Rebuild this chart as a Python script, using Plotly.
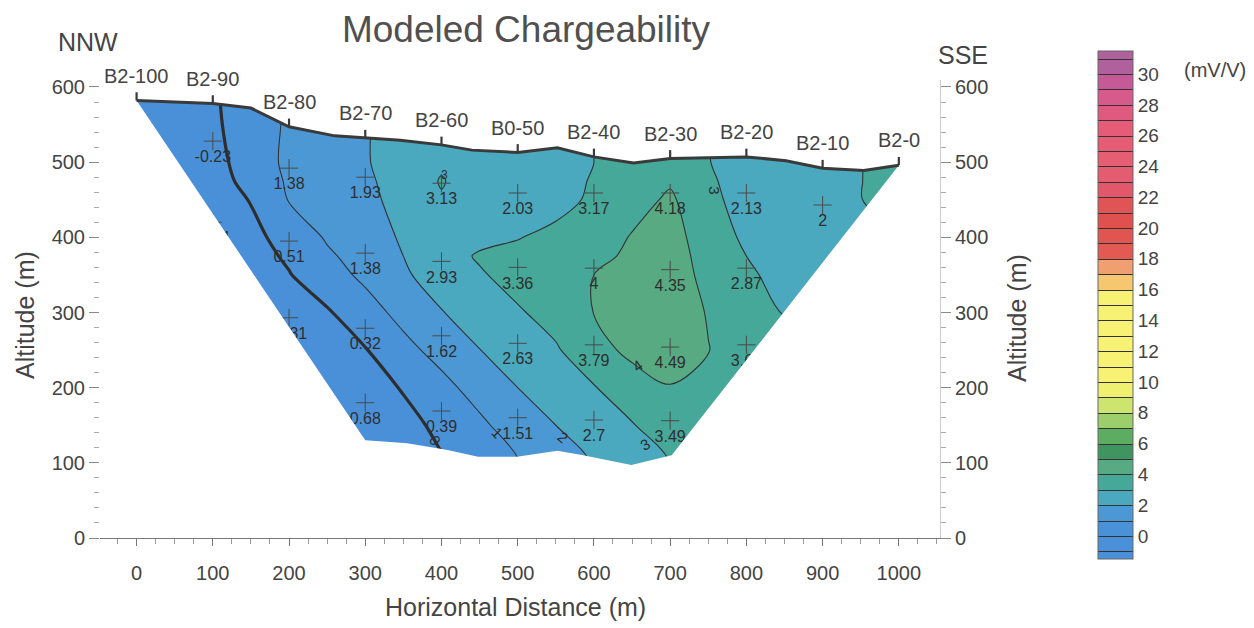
import plotly.graph_objects as go

# ---------------- data ----------------
# topography (surface) profile, m
surf_x = [0, 100, 150, 200, 260, 300, 346, 400, 440, 500, 552, 600, 652, 700, 800, 852, 900, 954, 1000]
surf_y = [582, 578, 572, 547, 535, 532, 529, 523, 516, 513, 519, 507, 499, 505, 507, 502, 492, 489, 496]
# bottom of the modelled section (left corner -> right corner)
bottom_x = [300, 355, 408, 448, 499, 552, 586, 649, 702]
bottom_y = [130, 126, 117, 108, 108, 116, 110, 97, 110]

# stations
station_names = ["B2-100", "B2-90", "B2-80", "B2-70", "B2-60", "B0-50",
                 "B2-40", "B2-30", "B2-20", "B2-10", "B2-0"]
station_x = [0, 100, 200, 300, 400, 500, 600, 700, 800, 900, 1000]
station_elev = [582, 578, 547, 532, 523, 513, 507, 505, 507, 492, 496]

# modelled chargeability grid (mV/V)
grid_x = [0, 50, 100, 150, 200, 250, 300, 350, 400, 450, 500,
          550, 600, 650, 700, 750, 800, 850, 900, 950, 1000]
grid_y = [50, 100, 150, 200, 250, 300, 350, 375, 400, 450, 475, 500, 550, 600]
r100 = [-0.95, -0.95, -0.95, -0.95, -0.95, -0.93, -0.9, -0.55, -0.1, 0.4, 0.95, 1.55, 2.05, 2.55, 3.0, 3.4, 3.5, 3.4, 3.2, 3.1, 3.1]
r150 = [-0.95, -0.95, -0.95, -0.95, -0.95, -0.92, -0.75, -0.35, 0.25, 0.8, 1.5, 2.0, 2.5, 2.95, 3.45, 3.7, 3.6, 3.4, 3.2, 3.1, 3.1]
r200 = [-0.95, -0.95, -0.95, -0.95, -0.9, -0.85, -0.5, 0.08, 0.7, 1.4, 2.0, 2.5, 2.95, 3.5, 3.95, 3.8, 3.6, 3.4, 3.2, 3.1, 3.1]
r250 = [-0.95, -0.95, -0.95, -0.9, -0.85, -0.6, -0.05, 0.7, 1.35, 1.98, 2.55, 2.9, 3.62, 4.25, 4.5, 4.02, 3.65, 3.4, 3.2, 3.1, 3.1]
r300 = [-0.95, -0.95, -0.9, -0.75, -0.4, -0.1, 0.6, 1.3, 1.95, 2.5, 2.9, 3.35, 4.02, 4.4, 4.45, 3.95, 3.4, 2.95, 2.8, 2.8, 2.9]
r350 = [-0.95, -0.9, -0.8, -0.5, -0.05, 0.6, 1.2, 1.85, 2.5, 2.9, 3.35, 3.6, 4.0, 4.25, 4.35, 3.8, 3.15, 2.7, 2.5, 2.6, 2.9]
r375 = [-0.9, -0.85, -0.7, -0.4, 0.15, 0.85, 1.4, 2.0, 2.6, 3.1, 3.3, 3.45, 3.78, 4.15, 4.35, 3.7, 3.0, 2.5, 2.3, 2.4, 2.8]
r400 = [-0.95, -0.8, -0.6, -0.25, 0.35, 1.1, 1.6, 2.1, 2.6, 2.75, 2.95, 3.3, 3.6, 4.05, 4.3, 3.6, 2.8, 2.3, 2.1, 2.4, 2.9]
r450 = [-0.95, -0.6, -0.25, 0.03, 1.05, 1.5, 1.85, 2.2, 2.9, 2.4, 2.05, 2.6, 3.2, 3.7, 4.12, 3.4, 2.4, 2.15, 2.05, 2.97, 3.6]
r475 = [-0.85, -0.55, -0.25, 0.19, 1.15, 1.52, 1.9, 2.25, 3.08, 2.38, 2.07, 2.55, 3.1, 3.6, 3.91, 3.22, 2.35, 2.12, 2.12, 2.97, 3.55]
r500 = [-0.75, -0.5, -0.25, 0.35, 1.25, 1.55, 1.95, 2.3, 2.8, 2.35, 2.1, 2.5, 3.0, 3.5, 3.7, 3.05, 2.3, 2.1, 2.2, 2.97, 3.5]
r550 = [-0.6, -0.45, -0.15, 0.45, 1.15, 1.6, 1.95, 2.3, 2.6, 2.4, 2.1, 2.5, 3.1, 3.4, 3.6, 3.0, 2.3, 2.1, 2.3, 3.0, 3.4]
r600 = [-0.6, -0.45, -0.1, 0.5, 1.1, 1.6, 1.95, 2.3, 2.6, 2.4, 2.1, 2.5, 3.1, 3.4, 3.6, 3.0, 2.3, 2.1, 2.3, 3.0, 3.4]
grid_z = [r100, r100, r150, r200, r250, r300, r350, r375, r400, r450, r475, r500, r550, r600]

# measured / modelled points with their labels
pt_x = [100, 100, 200, 200, 200, 300, 300, 300, 300, 400, 400, 400, 400,
        500, 500, 500, 500, 600, 600, 600, 600, 700, 700, 700, 700, 800, 800, 800, 900]
pt_y = [528, 420, 492, 395, 293, 480, 379, 279, 180, 472, 368, 269, 169,
        459, 360, 259, 160, 459, 359, 257, 157, 459, 357, 254, 156, 459, 359, 257, 443]
pt_label = ["-0.23", "-0.41", "1.38", "0.51", "-0.31", "1.93", "1.38", "0.32", "0.68",
            "3.13", "2.93", "1.62", "0.39", "2.03", "3.36", "2.63", "1.51",
            "3.17", "4", "3.79", "2.7", "4.18", "4.35", "4.49", "3.49",
            "2.13", "2.87", "3.61", "2"]

# contour labels (text, x, y, angle)
clab_text = ["0", "1", "2", "3", "4", "3", "3"]
clab_x = [392, 473, 560, 667, 657, 757, 404]
clab_y = [130, 140, 134, 124, 230, 463, 483]
clab_ang = [55, 45, 40, -30, -35, 90, 0]

# colour bar levels (-1 .. 30, one colour per 1 mV/V band)
band_vals = list(range(-1, 31))
band_cols = ["#4a90d8", "#4a92d8", "#4c98d4", "#4aa8bf", "#45a898", "#58aa82",
             "#3f9460", "#5cac62", "#9ccf6c", "#cde46e", "#f0f070", "#f8f274",
             "#f8f274", "#f8f274", "#f8f274", "#f8f274", "#f8f274", "#f5c870",
             "#f0a070", "#e25a52", "#e0554f", "#e0504e", "#e05455", "#e2586a",
             "#e45c70", "#e65e72", "#e65c74", "#e55b78", "#e05a80", "#d65a8b",
             "#c55a97", "#b0609c"]
cbar_ticks = list(range(0, 31, 2))

# ---------------- figure ----------------
FONT = "Liberation Sans, Arial, Helvetica, sans-serif"
TXT = "#444444"
xr = [-48, 1054]
yr = [0, 609.3]
L, R, T, B = 100, 314, 80, 90
W, H = 1254, 628
pw, ph = W - L - R, H - T - B


def px2paper(px, py):
    return (px - L) / pw, (H - B - py) / ph


def y2paper(y):
    return (y - yr[0]) / (yr[1] - yr[0])


# stepped colourscale on the contour colour domain [start-0.5, end+0.5]
n_units = (band_vals[-1] + 1) - band_vals[0] + 1  # 33
colorscale = []
for i, (v, c) in enumerate(zip(band_vals, band_cols)):
    lo = (v - band_vals[0] + 0.5) / n_units
    hi = (v - band_vals[0] + 1.5) / n_units
    if i == 0:
        lo = 0.0
    if i == len(band_vals) - 1:
        hi = 1.0
    colorscale.append([lo, c])
    colorscale.append([hi, c])

cb_x, _ = px2paper(1098, 0)
_, cb_y = px2paper(0, 305)

fig = go.Figure()

fig.add_trace(go.Contour(
    x=grid_x, y=grid_y, z=grid_z,
    autocontour=False,
    contours=dict(start=band_vals[0], end=band_vals[-1] + 1, size=1,
                  coloring="fill", showlines=True),
    line=dict(color="#333333", width=1.1, smoothing=1.0),
    colorscale=colorscale,
    showscale=True,
    colorbar=dict(
        x=cb_x, xanchor="left", xpad=0,
        y=cb_y, yanchor="middle", ypad=0,
        len=508, lenmode="pixels",
        thickness=35, thicknessmode="pixels",
        outlinecolor="#666666", outlinewidth=1,
        tickmode="array", tickvals=cbar_ticks,
        ticks="", tickfont=dict(family=FONT, size=19, color=TXT),
    ),
    hoverinfo="skip",
))

fig.add_trace(go.Contour(
    x=grid_x, y=grid_y, z=grid_z,
    autocontour=False,
    contours=dict(start=0, end=0, size=1, coloring="none"),
    line=dict(color="#2e2e2e", width=3.2, smoothing=1.0),
    showscale=False, hoverinfo="skip",
))

fig.add_trace(go.Scatter(
    x=pt_x, y=pt_y, mode="markers+text", text=pt_label,
    textposition="bottom center",
    textfont=dict(family=FONT, size=16, color="#2e2e2e"),
    marker=dict(symbol="cross-thin", size=13, line=dict(width=1, color="#4a4a4a"), color="#4a4a4a"),
    hoverinfo="skip",
))

# white mask outside the modelled section (outer box with the section as a hole)
X0, X1 = xr[0] - 200, xr[1] + 200
Y0, Y1 = yr[0] - 200, yr[1] + 200
inner_x = [surf_x[0]] + bottom_x + surf_x[::-1]
inner_y = [surf_y[0]] + bottom_y + surf_y[::-1]
mask_x = [X0, X1, X1, X0, X0] + inner_x + [X0, X0]
mask_y = [Y1, Y1, Y0, Y0, surf_y[0]] + inner_y + [surf_y[0], Y1]
fig.add_trace(go.Scatter(
    x=mask_x, y=mask_y, mode="lines", fill="toself",
    fillcolor="white", line=dict(width=0, color="white"), hoverinfo="skip",
))

# topographic surface
fig.add_trace(go.Scatter(
    x=surf_x, y=surf_y, mode="lines",
    line=dict(color="#3a3a3a", width=3), hoverinfo="skip",
))

# station ticks
tick_len_m = 11
tx, ty = [], []
for sx, se in zip(station_x, station_elev):
    tx += [sx, sx, None]
    ty += [se, se + tick_len_m, None]
fig.add_trace(go.Scatter(
    x=tx, y=ty, mode="lines", line=dict(color="#3a3a3a", width=2.2), hoverinfo="skip",
    cliponaxis=False,
))

# invisible trace so that the right-hand altitude axis is drawn
fig.add_trace(go.Scatter(
    x=[station_x[0]], y=[station_elev[0]], mode="markers",
    marker=dict(opacity=0), yaxis="y2", hoverinfo="skip",
))

annos = []
# station labels above the surface ticks
label_off_m = 33
for name, sx, se in zip(station_names, station_x, station_elev):
    annos.append(dict(x=sx, y=y2paper(se + label_off_m), xref="x", yref="paper",
                      text=name, showarrow=False, xanchor="center", yanchor="middle",
                      font=dict(family=FONT, size=20, color=TXT)))

for t, x, y, a in zip(clab_text, clab_x, clab_y, clab_ang):
    annos.append(dict(x=x, y=y, xref="x", yref="y", text=t, showarrow=False,
                      textangle=a, font=dict(family=FONT, size=15 if (t != "3" or a != 0) else 12,
                                             color="#2e2e2e")))


def paper_anno(text, px, py, size, angle=0, color=TXT):
    xp, yp = px2paper(px, py)
    return dict(x=xp, y=yp, xref="paper", yref="paper", text=text, showarrow=False,
                xanchor="center", yanchor="middle", textangle=angle,
                font=dict(family=FONT, size=size, color=color))


annos += [
    paper_anno("NNW", 88, 42, 25),
    paper_anno("SSE", 963, 55, 25),
    paper_anno("Altitude (m)", 25, 315, 25, -90),
    paper_anno("Altitude (m)", 1017, 318, 25, -90),
    paper_anno("Horizontal Distance (m)", 515, 607, 25),
    paper_anno("(mV/V)", 1215, 70, 20),
]

axis_common = dict(showgrid=False, zeroline=False,
                   tickfont=dict(family=FONT, size=20, color=TXT))

fig.update_layout(
    width=W, height=H, autosize=False,
    margin=dict(l=L, r=R, t=T, b=B),
    paper_bgcolor="white", plot_bgcolor="white",
    showlegend=False,
    title=dict(text="Modeled Chargeability", x=526 / W, y=1 - 29 / H,
               xref="container", yref="container", xanchor="center", yanchor="middle",
               font=dict(family=FONT, size=37, color="#505050")),
    xaxis=dict(range=xr, tickmode="linear", tick0=0, dtick=100,
               ticks="outside", ticklen=7, tickcolor="#777777",
               showline=True, linecolor="#777777", linewidth=1,
               ticklabelstandoff=10,
               minor=dict(dtick=25, tick0=0, ticks="outside", ticklen=5, tickcolor="#999999"),
               **axis_common),
    yaxis=dict(range=yr, tickmode="linear", tick0=0, dtick=100,
               ticks="outside", ticklen=10, tickcolor="#888888",
               showline=False,
               minor=dict(dtick=20, tick0=0, ticks="outside", ticklen=5, tickcolor="#aaaaaa"),
               **axis_common),
    yaxis2=dict(range=yr, overlaying="y", side="right", tickmode="linear", tick0=0, dtick=100,
                ticks="outside", ticklen=10, tickcolor="#888888",
                showline=True, linecolor="#cccccc", linewidth=1,
                minor=dict(dtick=20, tick0=0, ticks="outside", ticklen=5, tickcolor="#aaaaaa"),
                **axis_common),
    annotations=annos,
)

fig.write_html("out.html")
